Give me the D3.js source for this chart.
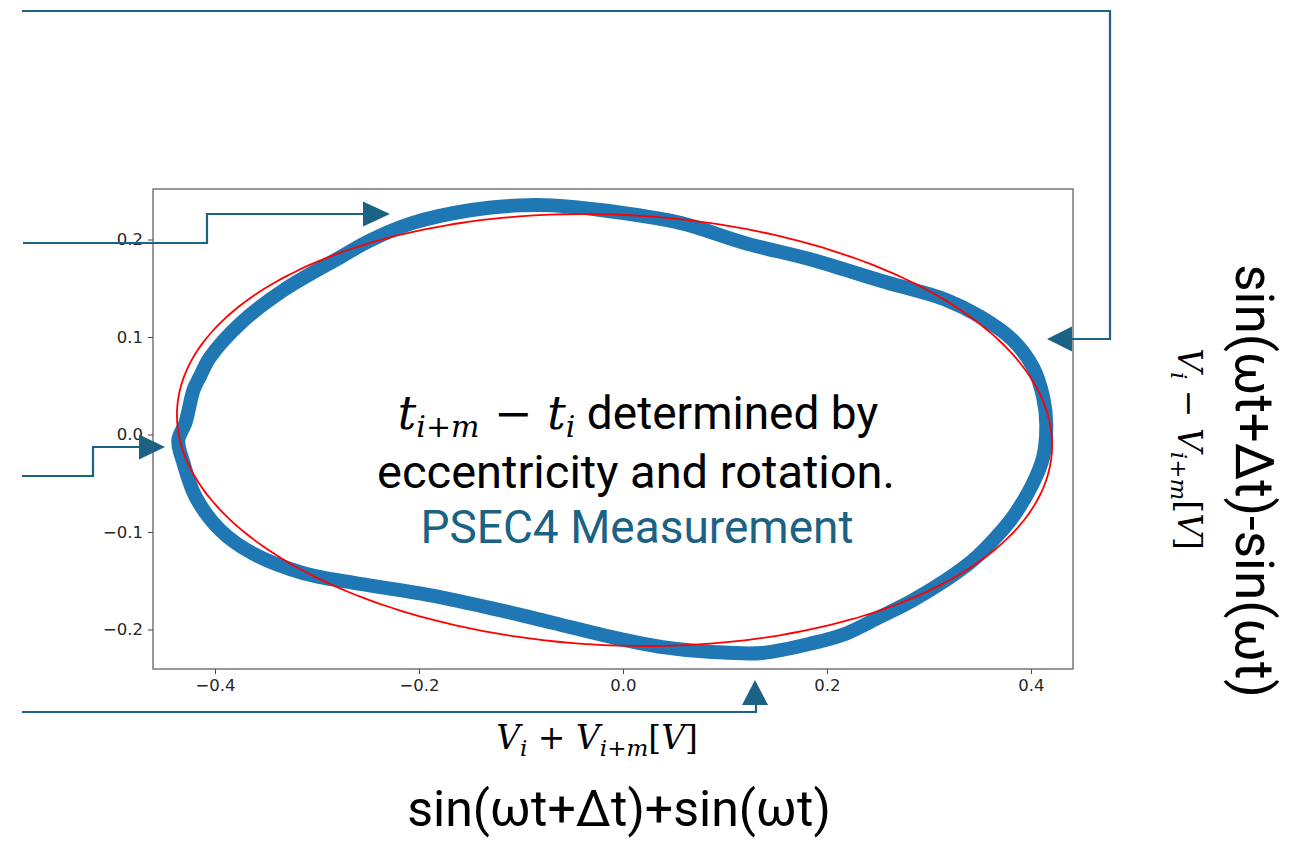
<!DOCTYPE html>
<html><head><meta charset="utf-8">
<script src="https://cdn.jsdelivr.net/npm/d3@7"></script>
<style>body{margin:0;background:#fff;overflow:hidden}</style></head>
<body><svg id="c" width="1294" height="843"></svg>
<script>
// ---------------- data ----------------
const xTicks = [-0.4, -0.2, 0.0, 0.2, 0.4];
const yTicks = [-0.2, -0.1, 0.0, 0.1, 0.2];
// measured loop (centre line of the scatter band), V_i + V_{i+m} vs V_i - V_{i+m}
const loopX = [-0.436,-0.429,-0.421,-0.415,-0.405,-0.375,-0.333,-0.277,-0.248,-0.206,-0.150,-0.101,-0.069,-0.020,
  0.056,0.121,0.186,0.252,0.317,0.350,0.382,0.402,0.412,0.415,0.412,0.402,0.382,0.366,0.343,0.317,0.284,0.252,
  0.219,0.186,0.137,0.088,0.039,-0.010,-0.069,-0.134,-0.199,-0.265,-0.314,-0.363,-0.395,-0.419,-0.431];
const loopY = [-0.006,0.012,0.046,0.059,0.079,0.114,0.148,0.182,0.199,0.217,0.230,0.235,0.235,0.230,
  0.217,0.196,0.179,0.158,0.138,0.121,0.097,0.069,0.038,0.010,-0.023,-0.050,-0.085,-0.105,-0.129,-0.149,-0.170,-0.187,
  -0.204,-0.214,-0.224,-0.223,-0.218,-0.208,-0.193,-0.177,-0.163,-0.152,-0.142,-0.122,-0.098,-0.064,-0.029];
// fitted ellipse parameters (data units)
const fitCenter = [-0.0083, 0.0046];
const fitAxes = [0.4294, 0.2208];
const fitAngleDeg = -2.8;

// ---------------- layout ----------------
const svg = d3.select("#c");
const L = 153, R = 1073, T = 189, B = 669;
const x = d3.scaleLinear().domain([-0.4608, 0.4412]).range([L, R]);
const y = d3.scaleLinear().domain([-0.2405, 0.2518]).range([B, T]);
const teal = "#1b6285";
const fmt = d3.format(".1f");
const sans = "Roboto";

// axes
const gx = svg.append("g").attr("transform", `translate(0,${B})`)
  .call(d3.axisBottom(x).tickValues(xTicks).tickFormat(fmt).tickSize(5).tickPadding(5));
const gy = svg.append("g").attr("transform", `translate(${L},0)`)
  .call(d3.axisLeft(y).tickValues(yTicks).tickFormat(fmt).tickSize(5).tickPadding(5));
[gx, gy].forEach(g => {
  g.select(".domain").remove();
  g.selectAll(".tick line").attr("stroke", "#444");
  g.selectAll(".tick text").attr("fill", "#262626").style("font-family", "DejaVu Sans").style("font-size", "16.5px");
});

// scatter loop
const idx = d3.range(loopX.length);
svg.append("path")
  .attr("d", d3.line().x(i => x(loopX[i])).y(i => y(loopY[i])).curve(d3.curveCatmullRomClosed.alpha(0.5))(idx))
  .attr("fill", "none").attr("stroke", "#1f77b4").attr("stroke-width", 14).attr("stroke-linejoin", "round");

// fitted ellipse
const phi = fitAngleDeg * Math.PI / 180;
const ts = d3.range(0, 361, 2).map(d => d * Math.PI / 180);
svg.append("path")
  .attr("d", d3.line()
    .x(t => x(fitCenter[0] + fitAxes[0] * Math.cos(t) * Math.cos(phi) - fitAxes[1] * Math.sin(t) * Math.sin(phi)))
    .y(t => y(fitCenter[1] + fitAxes[0] * Math.cos(t) * Math.sin(phi) + fitAxes[1] * Math.sin(t) * Math.cos(phi)))
    .curve(d3.curveCatmullRomClosed)(ts.slice(0, -1)))
  .attr("fill", "none").attr("stroke", "#ff0000").attr("stroke-width", 1.8);

// frame
svg.append("rect").attr("x", L).attr("y", T).attr("width", R - L).attr("height", B - T)
  .attr("fill", "none").attr("stroke", "#555").attr("stroke-width", 1.2);

// annotation arrows (pixel layout)
const arrows = [
  {pts: [[23,243],[207,243],[207,214],[363,214]], head: [[363,201.5],[363,226.5],[390,214]]},
  {pts: [[22,476],[93,476],[93,447],[139,447]], head: [[139,434.5],[139,459.5],[165,447]]},
  {pts: [[22,712],[756,712],[756,705]], head: [[742,705],[768,705],[755,680]]},
  {pts: [[22,11],[1110,11],[1110,339],[1072,339]], head: [[1072,326.5],[1072,351.5],[1047,339]]}
];
arrows.forEach(a => {
  svg.append("path").attr("d", d3.line()(a.pts)).attr("fill", "none").attr("stroke", teal).attr("stroke-width", 2.2);
  svg.append("path").attr("d", d3.line()(a.head) + "Z").attr("fill", teal);
});

// math labels
const mathFont = "DejaVu Serif";
function mathLabel(t, op) {
  t.append("tspan").style("font-style", "italic").text("V");
  t.append("tspan").attr("dy", 7).style("font-size", "23px").style("font-style", "italic").text("i");
  t.append("tspan").attr("dy", -7).text(op);
  t.append("tspan").style("font-style", "italic").text("V");
  t.append("tspan").attr("dy", 7).style("font-size", "23px").style("font-style", "italic").text("i");
  t.append("tspan").style("font-size", "23px").text("+");
  t.append("tspan").style("font-size", "23px").style("font-style", "italic").text("m");
  t.append("tspan").attr("dy", -7).text("[");
  t.append("tspan").style("font-style", "italic").text("V");
  t.append("tspan").text("]");
}
mathLabel(svg.append("text").attr("x", 597).attr("y", 749).attr("text-anchor", "middle")
  .style("font-family", mathFont).style("font-size", "33px").attr("fill", "#000"), " + ");
mathLabel(svg.append("text").attr("transform", "translate(1178,449) rotate(90)").attr("text-anchor", "middle")
  .style("font-family", mathFont).style("font-size", "33px").attr("fill", "#000"), " \u2212 ");

// big formula labels
svg.append("text").attr("x", 619).attr("y", 826).attr("text-anchor", "middle")
  .style("font-family", sans).style("font-size", "50px").attr("fill", "#000")
  .text("sin(\u03c9t+\u0394t)+sin(\u03c9t)");
svg.append("text").attr("transform", "translate(1236,481) rotate(90)").attr("text-anchor", "middle")
  .style("font-family", sans).style("font-size", "53px").attr("fill", "#000")
  .text("sin(\u03c9t+\u0394t)-sin(\u03c9t)");

// centre annotation
{
  const t = svg.append("text").attr("x", 638).attr("y", 429).attr("text-anchor", "middle")
    .style("font-family", sans).style("font-size", "46px").attr("fill", "#000");
  t.append("tspan").style("font-family", mathFont).style("font-style", "italic").text("t");
  t.append("tspan").attr("dy", 8).style("font-family", mathFont).style("font-size", "30px").style("font-style", "italic").text("i");
  t.append("tspan").style("font-family", mathFont).style("font-size", "30px").text("+");
  t.append("tspan").style("font-family", mathFont).style("font-size", "30px").style("font-style", "italic").text("m");
  t.append("tspan").attr("dy", -8).style("font-family", mathFont).text(" \u2212 ");
  t.append("tspan").style("font-family", mathFont).style("font-style", "italic").text("t");
  t.append("tspan").attr("dy", 8).style("font-family", mathFont).style("font-size", "30px").style("font-style", "italic").text("i");
  t.append("tspan").attr("dy", -8).text(" determined by");
}
svg.append("text").attr("x", 636).attr("y", 488).attr("text-anchor", "middle")
  .style("font-family", sans).style("font-size", "47px").attr("fill", "#000")
  .text("eccentricity and rotation.");
svg.append("text").attr("x", 637).attr("y", 543).attr("text-anchor", "middle")
  .style("font-family", sans).style("font-size", "46px").attr("fill", teal)
  .text("PSEC4 Measurement");
</script></body></html>
